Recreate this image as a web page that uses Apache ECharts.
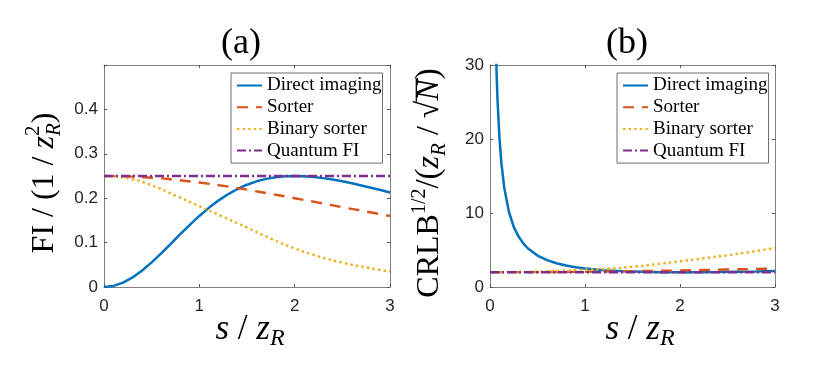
<!DOCTYPE html>
<html>
<head>
<meta charset="utf-8">
<script src="https://cdn.jsdelivr.net/npm/echarts@6/dist/echarts.min.js"></script>
<style>html,body{margin:0;padding:0;background:#fff}#c{width:830px;height:374px}</style>
</head>
<body>
<div id="c"></div>
<script>
// ---------- data ----------
const seriesNames = ['Direct imaging', 'Sorter', 'Binary sorter', 'Quantum FI'];

// panel (a): Fisher information
const xFineA = [0,0.1,0.2,0.3,0.4,0.5,0.6,0.7,0.8,0.9,1.0,1.1,1.2,1.3,1.4,1.5,1.6,1.7,1.8,1.9,2.0,2.1,2.2,2.3,2.4,2.5,2.6,2.7,2.8,2.9,3.0];
const directA = [0,0.0025,0.0098,0.0215,0.0370,0.0554,0.0758,0.0972,0.1189,0.1400,0.1600,0.1783,0.1946,0.2088,0.2207,0.2304,0.2380,0.2435,0.2472,0.2493,0.2500,0.2494,0.2477,0.2452,0.2419,0.2380,0.2336,0.2288,0.2237,0.2184,0.2130];
const xQuarter = [0,0.25,0.5,0.75,1.0,1.25,1.5,1.75,2.0,2.25,2.5,2.75,3.0];
const sorterA = [0.25,0.2490,0.2462,0.2414,0.2353,0.2278,0.2192,0.2097,0.2000,0.1900,0.1798,0.1699,0.1600];
const binaryA = [0.25,0.245,0.229,0.206,0.182,0.158,0.134,0.109,0.087,0.069,0.055,0.044,0.035];
const xEnds = [0,3];
const quantumA = [0.25,0.25];

// panel (b): sqrt of CRLB
const xDirectB = [0.05,0.06,0.07,0.08,0.1,0.12,0.15,0.2,0.25,0.3,0.35,0.4,0.5,0.6,0.7,0.8,0.9,1.0,1.2,1.4,1.6,1.8,2.0,2.2,2.4,2.6,2.8,3.0];
const directB = [40.03,33.36,28.61,25.04,20.05,16.73,13.41,10.10,8.13,6.82,5.89,5.20,4.25,3.63,3.21,2.90,2.67,2.50,2.27,2.13,2.05,2.01,2.00,2.01,2.03,2.07,2.11,2.17];
const sorterB = [2.0,2.004,2.016,2.035,2.062,2.095,2.136,2.183,2.236,2.295,2.358,2.427,2.5];
const binaryB = [2.0,2.02,2.09,2.20,2.33,2.48,2.73,3.08,3.48,3.88,4.29,4.76,5.27];
const quantumB = [2,2];

// tick labels
const xTickLabels = ['0','1','2','3'];
const yTickLabelsA = ['0','0.1','0.2','0.3','0.4'];
const yTickLabelsB = ['0','10','20','30'];

// ---------- helpers ----------
const pairs = (xs, ys) => xs.map((x, i) => [x, ys[i]]);
const colors = ['#0072BD', '#D95319', '#EDB120', '#7E2F8E'];
const styles = [
  {type: 'solid', width: 2.5},
  {type: [11, 8], width: 2.4},
  {type: [2.4, 3.2], width: 2.5},
  {type: [9, 3, 2, 3], width: 2.4}
];
const axisGray = '#808080';
const tickFont = {fontFamily: 'Liberation Sans', fontSize: 17, color: '#262626'};
const serif = 'Liberation Serif';

function mkSeries(name, k, xs, ys, xi, yi, smooth) {
  return {
    name, type: 'line', xAxisIndex: xi, yAxisIndex: yi,
    data: pairs(xs, ys), symbol: 'none', smooth: smooth ? 0.5 : false,
    clip: true,
    lineStyle: {color: colors[k], type: styles[k].type, width: styles[k].width, cap: 'butt'},
    itemStyle: {color: colors[k]}, emphasis: {disabled: true}, animation: false
  };
}

const ctx = document.createElement('canvas').getContext('2d');
function fontOf(p) { return (p.i ? 'italic ' : '') + p.s + 'px "' + serif + '"'; }
function textRun(pieces, gx, gy, rotation) {
  let x = 0;
  const items = [];
  pieces.forEach(p => {
    ctx.font = fontOf(p);
    const w = ctx.measureText(p.t).width;
    items.push({p, x, w});
    x += (p.adv === 0 ? 0 : w);
  });
  const W = x;
  const children = [];
  items.forEach(({p, x, w}) => {
    const dy = p.dy || 0;
    children.push({
      type: 'text', x: x - W / 2, y: dy - 0.3375 * p.s,
      style: {text: p.t, font: fontOf(p), fill: '#000', textAlign: 'left', textVerticalAlign: 'middle'},
      silent: true
    });
    if (p.over) {
      children.push({
        type: 'line', silent: true,
        shape: {x1: x - W / 2 - 1, y1: -0.74 * p.s, x2: x - W / 2 + w + 1, y2: -0.74 * p.s},
        style: {stroke: '#000', lineWidth: 1.3}
      });
    }
  });
  return {type: 'group', x: gx, y: gy, rotation: rotation || 0, children};
}

const gridA = {left: 104, top: 65, width: 286, height: 222};
const gridB = {left: 490, top: 65, width: 285, height: 222};

function xAx(gi, top) {
  return {
    type: 'value', gridIndex: gi, min: 0, max: 3, interval: 1, position: top ? 'top' : 'bottom',
    axisLine: {show: true, onZero: false, lineStyle: {color: axisGray, width: 1}},
    axisTick: {show: true, inside: true, length: 3, lineStyle: {color: '#555'}},
    axisLabel: top ? {show: false} : Object.assign({show: true, margin: 11,
      formatter: v => xTickLabels[Math.round(v)] }, tickFont),
    splitLine: {show: false}
  };
}
function yAx(gi, right, max, interval, labels) {
  return {
    type: 'value', gridIndex: gi, min: 0, max, interval, position: right ? 'right' : 'left',
    axisLine: {show: true, onZero: false, lineStyle: {color: axisGray, width: 1}},
    axisTick: {show: true, inside: true, length: 3, lineStyle: {color: '#555'}},
    axisLabel: right ? {show: false} : Object.assign({show: true, margin: 6,
      formatter: v => { const i = Math.round(v / interval); return i < labels.length ? labels[i] : ''; } }, tickFont),
    splitLine: {show: false}
  };
}

function legendAt(left) {
  return {
    left, top: 73, orient: 'vertical', align: 'left',
    data: seriesNames, selectedMode: false,
    itemWidth: 25, itemHeight: 12, itemGap: 0.7,
    padding: [2, 1, 2, 5],
    backgroundColor: '#fff', borderColor: '#6e6e6e', borderWidth: 1, borderRadius: 0,
    itemStyle: {opacity: 0},
    textStyle: {fontFamily: serif, fontSize: 19, color: '#000', lineHeight: 21},
    z: 10
  };
}

const chart = echarts.init(document.getElementById('c'), null, {renderer: 'canvas'});
chart.setOption({
  backgroundColor: '#fff',
  animation: false,
  textStyle: {fontFamily: serif},
  grid: [Object.assign({show: false}, gridA), Object.assign({show: false}, gridB)],
  xAxis: [xAx(0, false), xAx(0, true), xAx(1, false), xAx(1, true)],
  yAxis: [yAx(0, false, 0.5, 0.1, yTickLabelsA), yAx(0, true, 0.5, 0.1, yTickLabelsA),
          yAx(1, false, 30, 10, yTickLabelsB), yAx(1, true, 30, 10, yTickLabelsB)],
  legend: [legendAt(231), legendAt(617)],
  series: [
    mkSeries(seriesNames[0], 0, xFineA, directA, 0, 0, false),
    mkSeries(seriesNames[1], 1, xQuarter, sorterA, 0, 0, true),
    mkSeries(seriesNames[2], 2, xQuarter, binaryA, 0, 0, true),
    mkSeries(seriesNames[3], 3, xEnds, quantumA, 0, 0, false),
    mkSeries(seriesNames[0], 0, xDirectB, directB, 2, 2, false),
    mkSeries(seriesNames[1], 1, xQuarter, sorterB, 2, 2, true),
    mkSeries(seriesNames[2], 2, xQuarter, binaryB, 2, 2, true),
    mkSeries(seriesNames[3], 3, xEnds, quantumB, 2, 2, false)
  ],
  graphic: [
    textRun([{t: '(a)', s: 36}], 241, 56, 0),
    textRun([{t: '(b)', s: 36}], 627, 56, 0),
    textRun([{t: 's', s: 35, i: true}, {t: ' / ', s: 35}, {t: 'z', s: 35, i: true}, {t: 'R', s: 24, i: true, dy: 5}], 250, 342, 0),
    textRun([{t: 's', s: 35, i: true}, {t: ' / ', s: 35}, {t: 'z', s: 35, i: true}, {t: 'R', s: 24, i: true, dy: 5}], 640, 342, 0),
    textRun([{t: 'FI / (1 / ', s: 32}, {t: 'z', s: 32, i: true}, {t: '2', s: 21, dy: -14, adv: 0},
             {t: 'R', s: 21, i: true, dy: 7}, {t: ')', s: 32}], 55, 183, Math.PI / 2),
    textRun([{t: 'CRLB', s: 32}, {t: '1/2', s: 20, dy: -14}, {t: '/(', s: 33}, {t: 'z', s: 32, i: true},
             {t: 'R', s: 21, i: true, dy: 7}, {t: ' / ', s: 32}, {t: '\u221A', s: 32},
             {t: 'N', s: 32, i: true, over: true}, {t: ')', s: 33}], 440, 183, Math.PI / 2)
  ]
});
</script>
</body>
</html>
